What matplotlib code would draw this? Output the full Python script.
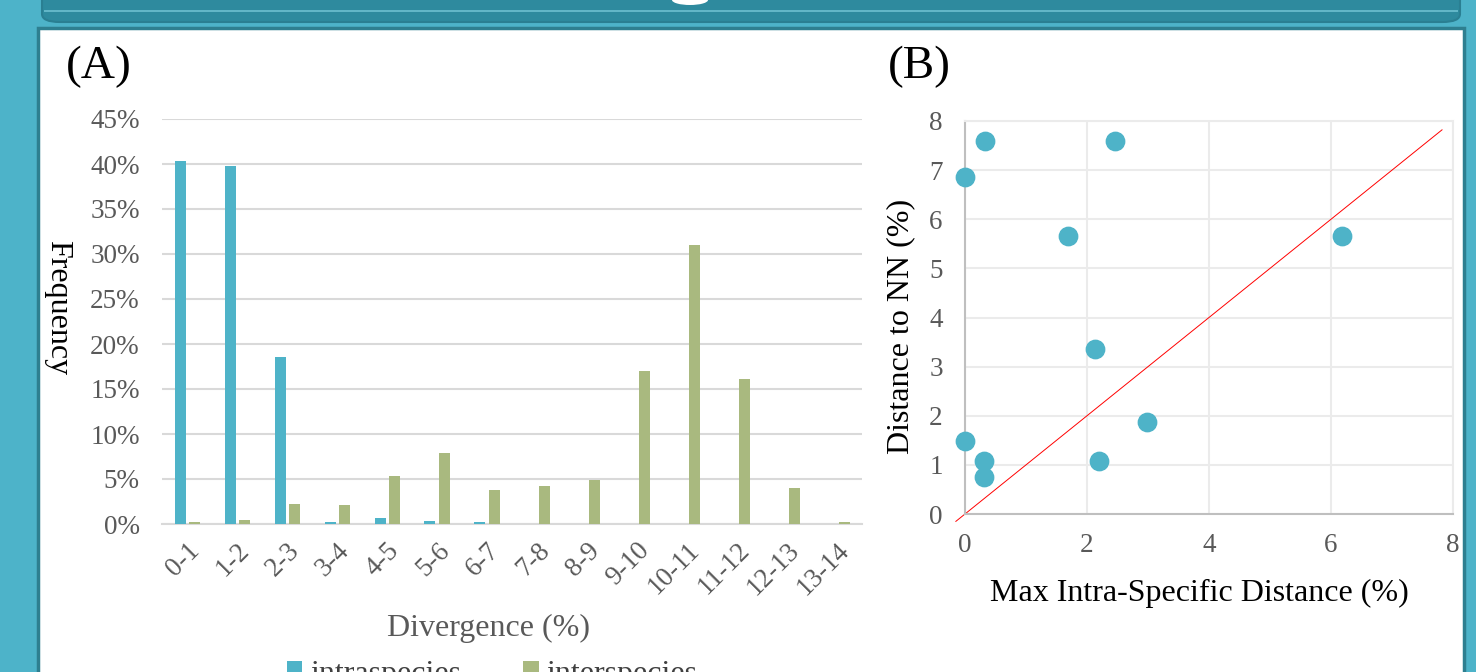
import matplotlib.pyplot as plt
from matplotlib.patches import Rectangle, FancyBboxPatch, Ellipse
from matplotlib.ticker import PercentFormatter

plt.rcParams['font.family'] = ['Liberation Serif', 'DejaVu Serif']

# panel A data
bins = ['0-1', '1-2', '2-3', '3-4', '4-5', '5-6', '6-7', '7-8', '8-9', '9-10',
        '10-11', '11-12', '12-13', '13-14']
intra = [40.3, 39.8, 18.6, 0.2, 0.7, 0.3, 0.2, 0, 0, 0, 0, 0, 0, 0]
inter = [0.2, 0.5, 2.2, 2.1, 5.3, 7.9, 3.8, 4.2, 4.9, 17.0, 31.0, 16.1, 4.0, 0.2]

# panel B data
max_intra = [0.0, 0.33, 2.46, 1.69, 6.18, 2.13, 2.98, 0.0, 0.31, 2.2, 0.31]
dist_nn = [6.86, 7.6, 7.6, 5.65, 5.65, 3.35, 1.88, 1.49, 1.08, 1.08, 0.76]

teal = '#4EB3C8'
green = '#A9B97F'
grey = '#595959'

W, H = 1476, 672
fig = plt.figure(figsize=(W / 100, H / 100), dpi=100)
fig.patch.set_facecolor('#4DB3C9')

def box(x0, y0, x1, y1):
    # pixel box (top-left origin) -> figure fraction [l, b, w, h]
    return [x0 / W, 1 - y1 / H, (x1 - x0) / W, (y1 - y0) / H]

# header band + white panel (behind the axes)
fig.patches.append(FancyBboxPatch((42 / W, 1 - 22 / H), 1418 / W, 40 / H,
                                  boxstyle='round,pad=0,rounding_size=0.012',
                                  transform=fig.transFigure, fc='#2E8A9E',
                                  ec='#2A7F92', lw=1.5, zorder=-10))
fig.patches.append(Rectangle((44 / W, 1 - 12 / H), 1414 / W, 1.5 / H,
                             transform=fig.transFigure, fc='#62B6C7',
                             lw=0, zorder=-9))
fig.patches.append(Ellipse((690 / W, 1), 36 / W, 10 / H,
                           transform=fig.transFigure, fc='white', lw=0,
                           zorder=-9))
fig.patches.append(Rectangle((38 / W, -0.01), 1426 / W, 1.01 - 28 / H,
                             transform=fig.transFigure, fc='white',
                             ec='#2E7F90', lw=2.5, zorder=-10))

# ---- panel A ----
ax = fig.add_axes(box(162, 119, 862, 524))
x = range(len(bins))
w = 0.22
ax.bar([i - w / 2 - 0.03 for i in x], [v / 100 for v in intra], w, color=teal,
       label='intraspecies', zorder=3)
ax.bar([i + w / 2 + 0.03 for i in x], [v / 100 for v in inter], w, color=green,
       label='interspecies', zorder=3)
ax.set_xlim(-0.5, len(bins) - 0.5)
ax.set_ylim(0, 0.45)
ax.set_yticks([i * 0.05 for i in range(10)])
ax.yaxis.set_major_formatter(PercentFormatter(1.0, decimals=0))
ax.set_xticks(list(x))
ax.set_xticklabels(bins, rotation=45, ha='right', va='top',
                   rotation_mode='anchor')
ax.grid(axis='y', color='#D9D9D9', lw=1.5, zorder=0)
for s in ['top', 'right', 'left']:
    ax.spines[s].set_visible(False)
ax.spines['bottom'].set_color('#D9D9D9')
ax.spines['bottom'].set_linewidth(1.5)
ax.tick_params(axis='y', length=0, labelsize=19.5, labelcolor=grey, pad=16)
ax.tick_params(axis='x', length=0, labelsize=19.5, labelcolor=grey, pad=10)
ax.set_xlabel('Divergence (%)', fontsize=23, color=grey)
ax.xaxis.set_label_coords(0.467, -0.222)
ax.set_ylabel('Frequency', fontsize=23, color='black', rotation=-90)
ax.yaxis.set_label_coords(-0.17, 0.535)
fig.text(66 / W, 1 - 67 / H, '(A)', fontsize=34, va='center')
fig.legend(loc='upper left', bbox_to_anchor=(258 / W, 1 - 631 / H), ncol=2,
           frameon=False, fontsize=23, handlelength=0.48, handleheight=0.48,
           columnspacing=1.95, handletextpad=0.25, labelcolor='#404040')

# ---- panel B ----
bx = fig.add_axes(box(965, 121, 1453, 514))
bx.scatter(max_intra, dist_nn, s=175, color=teal, zorder=3, clip_on=False)
bx.plot([-0.15, 7.82], [-0.15, 7.82], color='red', lw=0.7, zorder=2,
        clip_on=False)
bx.set_xlim(0, 8)
bx.set_ylim(0, 8)
bx.set_xticks(range(0, 9, 2))
bx.set_yticks(range(0, 9))
bx.grid(color='#EBEBEB', lw=1.5, zorder=0)
for s in ['top', 'right']:
    bx.spines[s].set_color('#EBEBEB')
    bx.spines[s].set_linewidth(1.5)
for s in ['left', 'bottom']:
    bx.spines[s].set_color('#BFBFBF')
    bx.spines[s].set_linewidth(1.5)
bx.tick_params(axis='y', length=0, labelsize=19.5, labelcolor=grey, pad=16)
bx.tick_params(axis='x', length=0, labelsize=19.5, labelcolor=grey, pad=14)
bx.set_xlabel('Max Intra-Specific Distance (%)', fontsize=23)
bx.xaxis.set_label_coords(0.48, -0.165)
bx.set_ylabel('Distance to NN (%)', fontsize=23)
bx.yaxis.set_label_coords(-0.102, 0.478)
fig.text(888 / W, 1 - 67 / H, '(B)', fontsize=34, va='center')

fig.savefig('out.png', dpi=100)
